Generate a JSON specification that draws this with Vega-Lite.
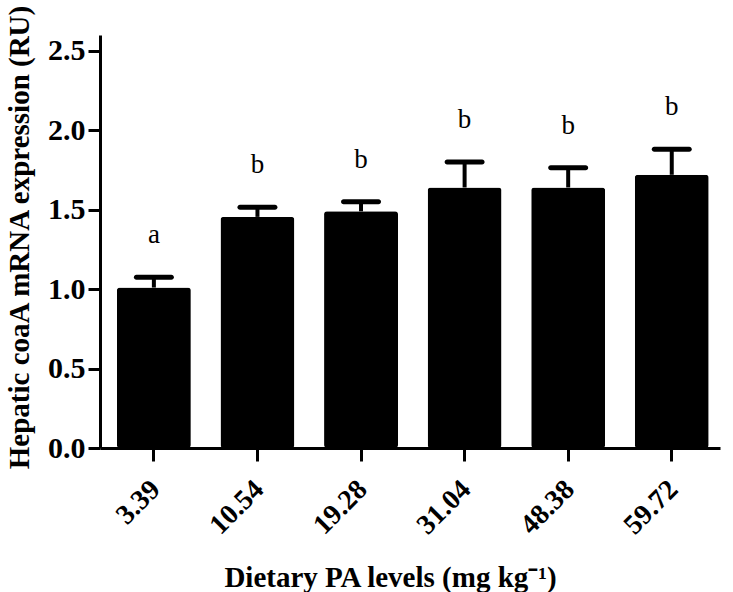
{
  "$schema": "https://vega.github.io/schema/vega-lite/v6.json",
  "width": 620,
  "height": 413,
  "autosize": {"type": "none"},
  "padding": {"left": 100, "top": 35, "right": 13, "bottom": 144},
  "background": "white",
  "config": {
    "view": {"stroke": null},
    "font": "Liberation Serif",
    "axis": {
      "domainColor": "black",
      "domainWidth": 3,
      "tickColor": "black",
      "tickWidth": 3,
      "grid": false,
      "labelFont": "Liberation Serif",
      "labelFontWeight": "bold",
      "labelColor": "black",
      "titleFont": "Liberation Serif",
      "titleFontWeight": "bold",
      "titleFontSize": 29,
      "titleColor": "black"
    }
  },
  "data": {
    "values": [
      {"level": "3.39", "mean": 1.01, "upper": 1.075, "letter": "a"},
      {"level": "10.54", "mean": 1.455, "upper": 1.515, "letter": "b"},
      {"level": "19.28", "mean": 1.49, "upper": 1.55, "letter": "b"},
      {"level": "31.04", "mean": 1.64, "upper": 1.8, "letter": "b"},
      {"level": "48.38", "mean": 1.64, "upper": 1.765, "letter": "b"},
      {"level": "59.72", "mean": 1.72, "upper": 1.88, "letter": "b"}
    ]
  },
  "encoding": {
    "x": {
      "field": "level",
      "type": "ordinal",
      "sort": null,
      "scale": {"paddingInner": 0.286, "paddingOuter": 0.136, "align": 0.6},
      "axis": {
        "title": "Dietary PA levels (mg kg⁻¹)",
        "labelFontSize": 28,
        "labelAngle": -45,
        "labelAlign": "right",
        "labelBaseline": "middle",
        "tickSize": 13,
        "labelPadding": 24,
        "labelOffset": 2,
        "titleX": 290,
        "titleY": 138,
        "titleAlign": "center",
        "titleBaseline": "alphabetic"
      }
    }
  },
  "layer": [
    {
      "mark": {"type": "bar", "color": "black", "cornerRadius": 3},
      "encoding": {
        "y": {
          "field": "mean",
          "type": "quantitative",
          "scale": {"domain": [0, 2.5]},
          "axis": {
            "title": "Hepatic coaA mRNA expression (RU)",
            "values": [0, 0.5, 1, 1.5, 2, 2.5],
            "format": ".1f",
            "labelFontSize": 30,
            "tickSize": 12,
            "labelPadding": 3,
            "titleX": -72,
            "titleY": 202,
            "titleAngle": 270,
            "titleAlign": "center",
            "titleBaseline": "alphabetic"
          }
        }
      }
    },
    {
      "mark": {"type": "rule", "color": "black", "strokeWidth": 4},
      "encoding": {
        "y": {"field": "mean", "type": "quantitative"},
        "y2": {"field": "upper"}
      }
    },
    {
      "mark": {"type": "tick", "color": "black", "opacity": 1, "size": 40, "thickness": 5, "cornerRadius": 2.5},
      "encoding": {
        "y": {"field": "upper", "type": "quantitative"}
      }
    },
    {
      "mark": {"type": "text", "fontSize": 27, "font": "Liberation Serif", "color": "black", "baseline": "alphabetic", "dy": -34},
      "encoding": {
        "y": {"field": "upper", "type": "quantitative"},
        "text": {"field": "letter"}
      }
    }
  ]
}
